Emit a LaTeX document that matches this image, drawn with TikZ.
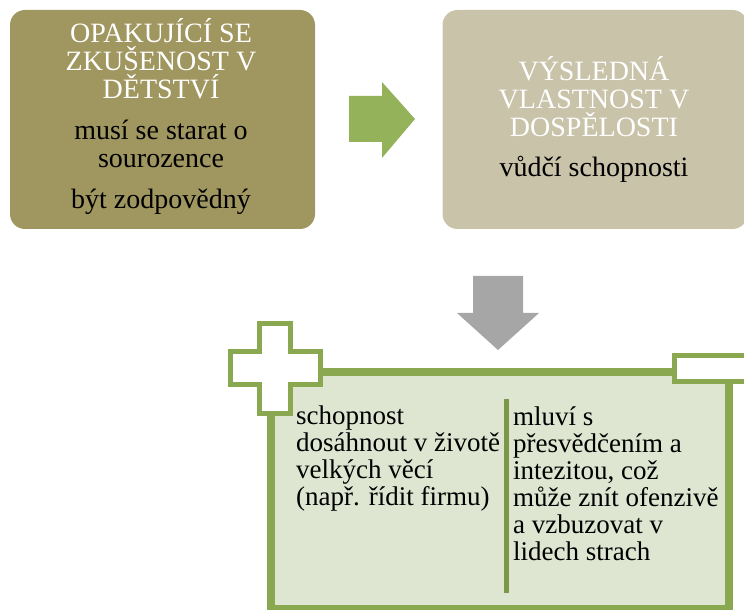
\documentclass[tikz,border=0pt]{standalone}
\usepackage{fontspec}
\setmainfont{Liberation Serif}
\usetikzlibrary{positioning,shadows}

\definecolor{olivebox}{HTML}{A0965F}
\definecolor{sandbox}{HTML}{C9C3AA}
\definecolor{arrowgreen}{HTML}{94B25A}
\definecolor{arrowgray}{HTML}{A6A6A6}
\definecolor{framegreen}{HTML}{8AA84F}
\definecolor{panelfill}{HTML}{DEE6D1}

\begin{document}
\begin{tikzpicture}
[x=1pt,y=1pt,
  top box/.style={fill=#1,rounded corners=15pt,minimum width=305pt,minimum height=219pt,inner sep=0pt},
  head text/.style={text=white,align=center,inner sep=0pt,anchor=base,font=\rmfamily\fontsize{28}{28.3}\selectfont},
  body text/.style={text=black,align=center,inner sep=0pt,anchor=base,font=\rmfamily\fontsize{28}{28}\selectfont},
  col text/.style={align=left,inner sep=0pt,anchor=base west,font=\rmfamily\fontsize{27}{27}\selectfont},
  sign/.style={draw=framegreen,fill=white,line width=5pt,
    drop shadow={shadow xshift=2pt,shadow yshift=-2pt,opacity=.25}}]

  \useasboundingbox (0,0) rectangle (744,610);
  \clip (0,0) rectangle (744,610);

  % upper boxes
  \node [top box=olivebox] (past) at (162.5,490.5) {};
  \node [top box=sandbox] (result) at (595,490.5) {};

  % base anchor = baseline of the last line
  \node [head text] (pasthead) at (161,511) {OPAKUJÍCÍ SE\\ZKUŠENOST V\\DĚTSTVÍ};
  \node [body text] (pastbody) at (161,401) {musí se starat o\\sourozence\\[13pt]být zodpovědný};
  \node [head text] (resulthead) at (594,473) {VÝSLEDNÁ\\VLASTNOST V\\DOSPĚLOSTI};
  \node [body text] (resultbody) at (594,433) {vůdčí schopnosti};

  % arrows
  \fill [arrowgreen] (349,468) -- (382,468) -- (382,452) -- (415,491)
    -- (382,528) -- (382,514) -- (349,514) -- cycle;
  \fill [arrowgray] (473,334) -- (523,334) -- (523,297) -- (539,297)
    -- (498,260) -- (457,297) -- (473,297) -- cycle;

  % lower panel
  \draw [framegreen,fill=panelfill,line width=8pt] (271,1) rectangle (729,238);
  \draw [framegreen!90!black,line width=5pt] (506.5,211) -- (506.5,17);

  \node [col text] (plus) at (296,104) {schopnost\\dosáhnout v životě\\velkých věcí\\(např. řídit firmu)};
  \node [col text] (minus) at (513,49) {mluví s\\přesvědčením a\\intezitou, což\\může znít ofenzivě\\a vzbuzovat v\\lidech strach};

  % plus and minus signs
  \begin{scope}[shift={(275,241.5)}]
    \draw [sign] (-15.5,45) -- (15.5,45) -- (15.5,16.5) -- (45,16.5) -- (45,-16.5)
      -- (15.5,-16.5) -- (15.5,-45) -- (-15.5,-45) -- (-15.5,-16.5) -- (-45,-16.5)
      -- (-45,16.5) -- (-15.5,16.5) -- cycle;
  \end{scope}
  \draw [sign] (674.5,228.5) rectangle (784,254.5);

\end{tikzpicture}
\end{document}
